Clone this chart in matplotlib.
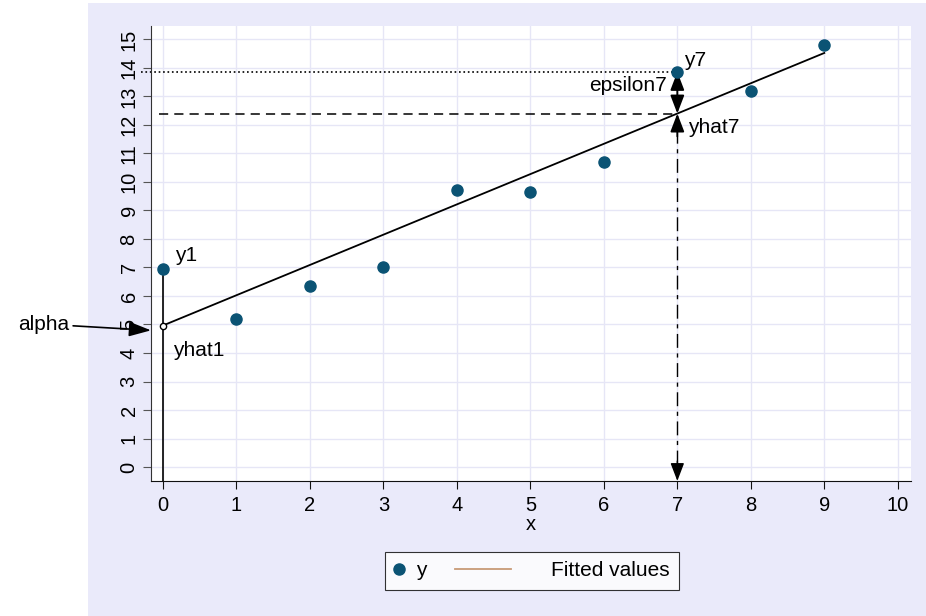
import numpy as np
import matplotlib
matplotlib.use("Agg")
import matplotlib.pyplot as plt
from matplotlib.lines import Line2D
from matplotlib.patches import Rectangle
from matplotlib.legend_handler import HandlerBase

plt.rcParams['font.family'] = ['Liberation Sans', 'DejaVu Sans']

# data
x_vals = [0, 1, 2, 3, 4, 5, 6, 7, 8, 9]
y_vals = [6.95, 5.19, 6.35, 7.02, 9.72, 9.65, 10.70, 13.86, 13.19, 14.81]
x_ticks = list(range(0, 11))
y_ticks = list(range(0, 16))
legend_labels = ["y", "Fitted values"]

slope, intercept = np.polyfit(x_vals, y_vals, 1)
fitted = [intercept + slope * xv for xv in x_vals]

BG = '#EAEAFA'
GRID = '#E6E6F6'
PT = '#0B5374'
FIT_LEG = '#C89A76'
FS = 15
TFS = 14.5
HEAD = '-|>,head_length=1.1,head_width=0.42'
HEAD2 = '<|-|>,head_length=1.1,head_width=0.42'

fig = plt.figure(figsize=(9.26, 6.16), dpi=100)
fig.patches.append(Rectangle((88 / 926, 0), 1, 1 - 3 / 616, transform=fig.transFigure,
                             facecolor=BG, edgecolor='none', zorder=-10))
ax = fig.add_axes([151 / 926, 1 - 481 / 616, 760 / 926, 455 / 616])
ax.set_facecolor('white')

ax.set_xlim(-0.163, 10.18)
ax.set_ylim(-0.49, 15.47)
ax.set_xticks(x_ticks)
ax.set_yticks(y_ticks)
ax.set_yticklabels([str(t) for t in y_ticks], rotation=90, va='center')
ax.grid(True, color=GRID, linewidth=1.0)
ax.set_axisbelow(True)
for s in ['top', 'right']:
    ax.spines[s].set_visible(False)
ax.spines['left'].set_color('#333333')
ax.spines['bottom'].set_color('#111111')
ax.tick_params(axis='both', direction='out', length=6, labelsize=TFS)
ax.tick_params(axis='y', color='#555555', pad=3)
ax.tick_params(axis='x', color='#111111', pad=5)
ax.set_xlabel('x', fontsize=TFS, labelpad=0)

# data and fit
ax.plot(x_vals, y_vals, 'o', color=PT, markersize=8, zorder=5)
ax.plot(x_vals, fitted, color='black', linewidth=1.3, zorder=4)

yhat1 = fitted[0]
y1 = y_vals[0]
yhat7 = fitted[7]
y7 = y_vals[7]
ylo = ax.get_ylim()[0]
xlo = ax.get_xlim()[0]

# residual at x=0
ax.plot([0, 0], [ylo, y1], color='black', linewidth=1.2, zorder=3)
ax.plot([0], [yhat1], 'o', markerfacecolor='white', markeredgecolor='black',
        markersize=4.5, zorder=6)
ax.text(0.16, y1 + 0.12, 'y1', fontsize=FS, va='bottom', ha='left')
ax.text(0.13, yhat1 - 0.55, 'yhat1', fontsize=FS, va='top', ha='left')

# alpha arrow
ax.annotate('alpha', xy=(xlo, yhat1 - 0.17), xytext=(-1.28, yhat1 + 0.05),
            fontsize=FS, ha='right', va='center', annotation_clip=False,
            arrowprops=dict(arrowstyle='-|>,head_length=0.9,head_width=0.3',
                            color='black', lw=1.2, shrinkA=1, shrinkB=0))

# horizontal reference lines
ax.plot([-0.3, 7], [y7, y7], color='black', linestyle=':', linewidth=1.2,
        clip_on=False)
ax.plot([-0.05, 7], [yhat7, yhat7], color='black', linestyle=(0, (6, 4)),
        linewidth=1.1)

# vertical dashed arrow at x=7
ax.plot([7, 7], [ylo + 0.6, yhat7 - 0.8], color='black', linestyle=(0, (10, 4, 3, 4)),
        linewidth=1.0)
ax.annotate('', xy=(7, ylo), xytext=(7, ylo + 0.7),
            arrowprops=dict(arrowstyle=HEAD, color='black', lw=1.0,
                            shrinkA=0, shrinkB=0))

# epsilon7 double arrow
ax.annotate('', xy=(7, y7), xytext=(7, yhat7),
            arrowprops=dict(arrowstyle=HEAD2, color='black', lw=1.4,
                            shrinkA=0, shrinkB=0))
ax.annotate('', xy=(7, yhat7), xytext=(7, yhat7 - 0.8),
            arrowprops=dict(arrowstyle=HEAD, color='black', lw=1.4,
                            shrinkA=0, shrinkB=0))
ax.text(6.86, (y7 + yhat7) / 2 + 0.25, 'epsilon7', fontsize=FS, ha='right', va='center')
ax.text(7.09, y7 + 0.05, 'y7', fontsize=FS, ha='left', va='bottom')
ax.text(7.14, yhat7 - 0.15, 'yhat7', fontsize=FS, ha='left', va='top')


# legend with custom handle placement
class MarkerRight(HandlerBase):
    def create_artists(self, legend, orig_handle, xdescent, ydescent, width,
                       height, fontsize, trans):
        m = Line2D([width - xdescent - 4.3], [height / 2 - ydescent], marker='o',
                   linestyle='none', color=orig_handle.get_color(),
                   markersize=orig_handle.get_markersize())
        m.set_transform(trans)
        return [m]


class LineLeft(HandlerBase):
    def create_artists(self, legend, orig_handle, xdescent, ydescent, width,
                       height, fontsize, trans):
        y = height / 2 - ydescent
        ln = Line2D([width - xdescent - 61.2, width - xdescent - 20.9], [y, y],
                    color=orig_handle.get_color(),
                    linewidth=orig_handle.get_linewidth())
        ln.set_transform(trans)
        return [ln]


h_pt = Line2D([], [], marker='o', linestyle='none', color=PT, markersize=8)
h_fit = Line2D([], [], color=FIT_LEG, linewidth=1.3)
leg = fig.legend([h_pt, h_fit], legend_labels, loc='center', ncol=2,
                 bbox_to_anchor=(532 / 926, 1 - 571 / 616), fontsize=FS,
                 frameon=True, fancybox=False, edgecolor='black',
                 handlelength=0.5, columnspacing=4.97, handletextpad=0.53,
                 borderpad=0.45,
                 handler_map={h_pt: MarkerRight(), h_fit: LineLeft()})
leg.get_frame().set_linewidth(0.8)

fig.savefig('out.png', dpi=100)
